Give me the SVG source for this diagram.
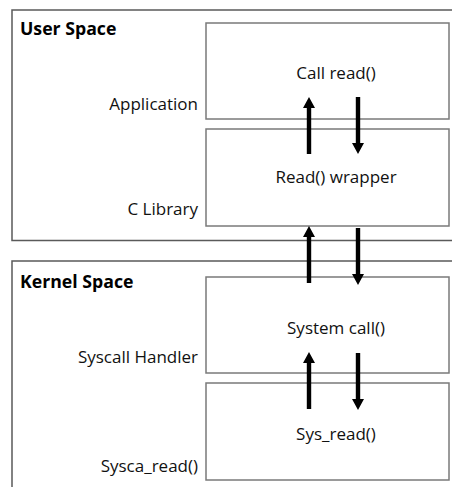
<svg xmlns="http://www.w3.org/2000/svg" width="452" height="487" viewBox="0 0 452 487">
  <defs>
    <style>
      .space { fill: #ffffff; stroke: #5a5a5a; stroke-width: 1.5; }
      .box { fill: #ffffff; stroke: #7a7a7a; stroke-width: 1.5; }
      .title { font-family: "Open Sans", "Liberation Sans", sans-serif; font-weight: bold; font-size: 17.7px; fill: #000; }
      .label { font-family: "Open Sans", "Liberation Sans", sans-serif; font-size: 17px; fill: #111; }
      .arrow { fill: #000; stroke: none; }
    </style>
    <!-- upward arrow with tip at origin, 57px long -->
    <path id="up" d="M0,0 L6,11 L2.2,11 L2.2,57 L-2.2,57 L-2.2,11 L-6,11 Z"/>
  </defs>

  <!-- User space region -->
  <g id="user-space">
    <path class="space" d="M460,10 L12,10 L12,240.5 L460,240.5"/>
    <text class="title" x="20" y="35">User Space</text>
  </g>

  <!-- Kernel space region -->
  <g id="kernel-space">
    <path class="space" d="M460,261 L12,261 L12,490"/>
    <text class="title" x="20" y="288">Kernel Space</text>
  </g>

  <g id="application">
    <rect class="box" x="206" y="23" width="243" height="96"/>
    <text class="label" x="336" y="79" text-anchor="middle">Call read()</text>
    <text class="label" x="198" y="110" text-anchor="end">Application</text>
  </g>

  <g id="c-library">
    <rect class="box" x="206" y="129" width="243" height="97"/>
    <text class="label" x="336" y="183" text-anchor="middle">Read() wrapper</text>
    <text class="label" x="198" y="215" text-anchor="end">C Library</text>
  </g>

  <g id="syscall-handler">
    <rect class="box" x="206" y="277" width="243" height="96"/>
    <text class="label" x="336" y="334" text-anchor="middle">System call()</text>
    <text class="label" x="198" y="363" text-anchor="end">Syscall Handler</text>
  </g>

  <g id="sys-read">
    <rect class="box" x="206" y="383" width="243" height="97"/>
    <text class="label" x="336" y="440" text-anchor="middle">Sys_read()</text>
    <text class="label" x="198" y="472" text-anchor="end">Sysca_read()</text>
  </g>

  <!-- call / return arrows between layers -->
  <g id="connectors" class="arrow">
    <use href="#up" transform="translate(309,97)"/>
    <use href="#up" transform="translate(358,154) rotate(180)"/>
    <use href="#up" transform="translate(309,226)"/>
    <use href="#up" transform="translate(358,285) rotate(180)"/>
    <use href="#up" transform="translate(309,352)"/>
    <use href="#up" transform="translate(358,410) rotate(180)"/>
  </g>
</svg>
